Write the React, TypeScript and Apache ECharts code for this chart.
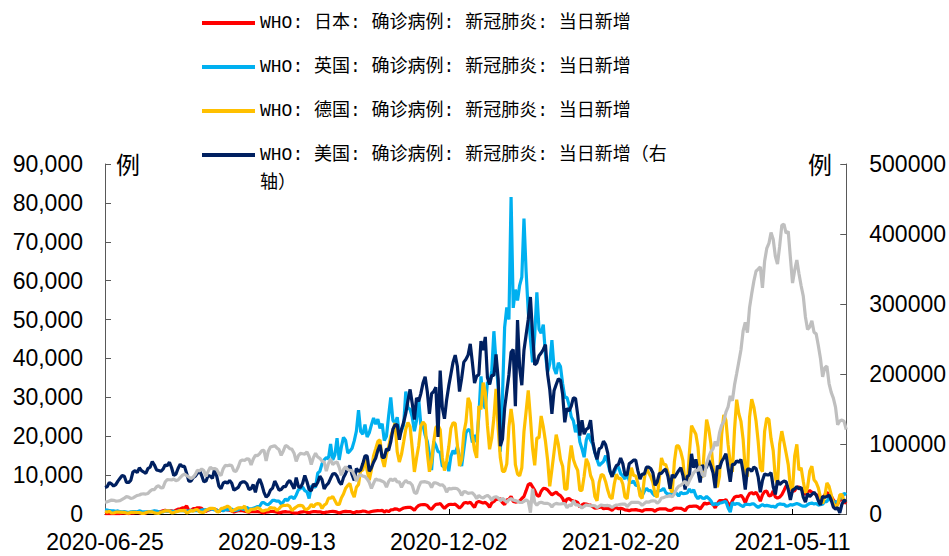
import React, { useEffect, useRef } from "react";
import * as echarts from "echarts";

// ---- categories: daily dates from 2020-06-25 (346 days) ----
const startUTC = Date.UTC(2020, 5, 25);
const dayCount = 346;
const dates: string[] = [];
for (let i = 0; i < dayCount; i++) {
  dates.push(new Date(startUTC + i * 86400000).toISOString().slice(0, 10));
}

const seriesNames = [
  "WHO: 日本: 确诊病例: 新冠肺炎: 当日新增",
  "WHO: 英国: 确诊病例: 新冠肺炎: 当日新增",
  "WHO: 德国: 确诊病例: 新冠肺炎: 当日新增",
  "WHO: 美国: 确诊病例: 新冠肺炎: 当日新增（右轴）",
];
const indiaName = "WHO: 印度: 确诊病例: 新冠肺炎: 当日新增（右轴）";

const leftTicks = [0, 10000, 20000, 30000, 40000, 50000, 60000, 70000, 80000, 90000];
const rightTicks = [0, 100000, 200000, 300000, 400000, 500000];

// ---- Japan (left axis) ----
const japan = [
  60, 100, 90, 100, 60, 90,
  130, 120, 200, 270, 210, 110, 210, 200, 360, 410, 290, 280, 140, 260, 450, 620, 590, 680, 510, 420, 620, 800, 980, 770, 840, 830, 610, 1000, 1260, 1290, 1580,
  1550, 2100, 900, 960, 1360, 1360, 1600, 1560, 1440, 870, 700, 980, 1180, 1360, 1240, 1010, 630, 920, 1060, 1190, 1040, 1000, 740, 480, 710, 870, 860, 880, 740, 570, 440,
  630, 600, 580, 590, 520, 430, 270, 500, 510, 650, 640, 590, 440, 270, 430, 560, 590, 520, 510, 370, 250, 210, 320, 480, 560, 640, 430, 340, 520, 610,
  630, 540, 580, 420, 300, 480, 540, 650, 690, 620, 480, 270, 460, 600, 690, 620, 620, 440, 320, 610, 550, 600, 760, 710, 520, 440, 630, 740, 800, 850, 840,
  940, 500, 860, 600, 1050, 1100, 1330, 1240, 960, 1270, 1550, 1650, 1700, 1730, 1430, 950, 1700, 2200, 2380, 2400, 2420, 2170, 1520, 1210, 1940, 2500, 2520, 2680, 2040, 1430,
  2030, 2420, 2510, 2440, 2520, 2060, 1520, 2020, 2810, 2970, 2790, 3030, 2350, 1680, 2990, 3210, 3040, 2800, 2990, 2500, 1750, 2840, 3210, 3740, 3830, 3890, 2930, 2390, 3600, 3810, 4520,
  3240, 3060, 3160, 3330, 4000, 4500, 6000, 7570, 7880, 7000, 6090, 4870, 4530, 5850, 6600, 6550, 6200, 5500, 4920, 5300, 5590, 5050, 4720, 3990, 2750, 3850, 3950, 3540, 3340, 3240, 2980,
  1780, 2330, 2630, 2570, 2390, 2280, 1890, 1500, 1590, 1690, 1880, 1350, 1410, 1450, 1270, 960, 1530, 1600, 1370, 1430, 1320, 1050, 1000, 860, 1060, 1070, 1130, 1000,
  910, 690, 1040, 1150, 1110, 1150, 1060, 690, 1130, 1310, 1300, 1330, 1320, 990, 920, 1010, 1480, 1520, 1480, 1470, 1200, 830, 1640, 1950, 1960, 2030, 2060, 1790, 1300, 2070, 2840,
  2590, 2780, 2760, 2470, 1570, 2650, 3450, 3450, 3450, 3700, 2770, 2080, 3450, 4310, 4570, 4530, 4800, 4090, 2840, 4320, 5270, 5500, 5100, 5590, 4610, 3300, 4920, 5790, 5900, 4670,
  4760, 5900, 4410, 4070, 4350, 4960, 6050, 7230, 7000, 6890, 5830, 6000, 6830, 6940, 6540, 5770, 5000, 5800, 6000, 5600, 5300, 5000, 4600, 3500, 4200, 4900, 5500, 5200, 4600, 3600, 3000,
  2600, 3600, 3800, 3200, 2700,
];

// ---- UK (left axis) ----
const uk = [
  1100, 1000, 900, 800, 800, 700,
  800, 600, 550, 620, 520, 400, 580, 620, 640, 510, 820, 650, 530, 540, 600, 540, 690, 800, 740, 580, 450, 560, 770, 760, 770, 690, 680, 580, 760, 850, 880,
  760, 740, 740, 940, 890, 950, 870, 760, 1060, 1060, 1150, 1010, 1440, 1210, 1040, 1010, 710, 1090, 810, 1180, 1030, 1290, 1280, 850, 1000, 1050, 1520, 1280, 1100, 1710, 1300,
  1300, 1500, 1700, 1900, 2000, 2900, 2900, 2500, 2400, 2900, 3500, 3500, 3300, 3300, 2600, 3100, 3900, 3400, 4300, 4400, 3900, 4900, 6200, 6600, 6900, 6000, 5700, 4000, 7100, 7100,
  6900, 10500, 11000, 12900, 13900, 14500, 14200, 18000, 13900, 15200, 19500, 13900, 17200, 19700, 18900, 15700, 16200, 16900, 18800, 21300, 26700, 21200, 20500, 23000, 19800, 20900, 22900, 24700, 23100, 24400, 22000,
  23200, 18900, 20000, 25200, 30000, 24100, 23300, 24900, 20600, 21400, 22900, 31500, 27300, 26900, 24900, 21300, 24000, 29500, 22900, 22900, 20300, 18700, 15400, 11300, 18700, 17600, 16000, 15900, 12300, 12300,
  13400, 11000, 14900, 16300, 15500, 17300, 14700, 12300, 16600, 20900, 21700, 21500, 18400, 20300, 18500, 25200, 35400, 28500, 27100, 34000, 33400, 36800, 47000, 39000, 32700, 16000, 30500, 48000, 53100, 50000, 81500,
  53000, 57700, 54900, 58800, 60900, 76000, 62300, 52000, 45000, 39000, 46000, 57000, 47500, 46500, 48700, 41000, 36500, 38600, 44700, 37500, 36000, 38900, 37900, 33500, 30000, 30000, 28000, 25000, 24000, 21000, 23000,
  18600, 16800, 14600, 19000, 20600, 19000, 18000, 15800, 14000, 12400, 13000, 13500, 15000, 13300, 10900, 9800, 10600, 12000, 12100, 10400, 9800, 9000, 10600, 8500, 8000, 8500, 7400, 7300,
  6000, 4700, 5800, 6600, 6000, 6000, 5200, 4700, 5800, 6000, 6100, 6600, 5500, 5100, 5100, 5300, 5800, 5300, 4600, 5600, 5200, 5300, 5400, 6400, 5600, 6200, 4700, 3900, 4600, 4100, 4000,
  4500, 4000, 3400, 2300, 2700, 2400, 2800, 2900, 3100, 3200, 1600, 500, 3000, 2400, 2700, 2600, 2200, 1900, 2500, 2500, 2400, 2600, 2600, 2100, 1700, 2100, 2400, 2100, 2200, 2100,
  1900, 2000, 1700, 2400, 2600, 2500, 2500, 2000, 2100, 2400, 2300, 2500, 2700, 2500, 2200, 2000, 2000, 2400, 2700, 2800, 2600, 2700, 2300, 2400, 2500, 3200, 3200, 4200, 3400, 3200, 3000,
  3200, 4000, 4300, 5300, 5000,
];

// ---- Germany (left axis) ----
const germany = [
  630, 480, 690, 260, 260, 470,
  470, 500, 440, 420, 240, 220, 400, 400, 440, 380, 380, 170, 160, 350, 530, 580, 550, 300, 200, 160, 450, 570, 815, 780, 780, 305, 340, 630, 680, 900, 870,
  950, 240, 510, 880, 740, 1050, 1150, 555, 435, 440, 965, 1230, 1450, 1450, 1415, 625, 560, 1390, 1510, 1710, 2030, 1700, 700, 1000, 1280, 1580, 1570, 1570, 2034, 610, 680,
  1220, 1250, 1310, 1630, 1380, 810, 810, 1030, 1090, 1680, 1520, 1510, 910, 1340, 2000, 2200, 2190, 2300, 1950, 920, 1380, 1800, 2150, 2200, 2110, 1230, 1190, 1610, 2500, 1800,
  2500, 2670, 2560, 1410, 2280, 2640, 4060, 4060, 4520, 3500, 2470, 2460, 4120, 5130, 6640, 7330, 7830, 5590, 4330, 6870, 7600, 11290, 11240, 14710, 11180, 8690, 11410, 14960, 16770, 18680, 19060,
  14180, 12100, 15350, 17210, 19990, 21500, 23400, 16020, 13360, 15330, 18490, 21870, 23540, 22460, 16950, 10820, 14420, 17560, 22610, 23650, 22960, 15740, 10860, 13550, 18630, 22270, 22810, 21700, 14610, 11170,
  13600, 17270, 22050, 23450, 23320, 17770, 12330, 14050, 20820, 23680, 29880, 28440, 20200, 16360, 14430, 27730, 26920, 33780, 31300, 22770, 16640, 19530, 24740, 32200, 22000, 14460, 10980, 10980, 12890, 22460, 27000,
  22900, 12700, 10300, 9800, 11900, 21200, 26400, 31800, 24700, 16900, 12500, 19600, 19600, 25200, 22400, 18700, 13900, 7100, 11400, 15900, 20400, 17900, 14000, 12300, 6400, 6400, 13200, 17600, 14000, 12400, 11200,
  6100, 6100, 9700, 14200, 12900, 9900, 8600, 4500, 3400, 8100, 10200, 9900, 8300, 6100, 4400, 3900, 7600, 10200, 9100, 9200, 7700, 4400, 3900, 8000, 11900, 9900, 9800, 8000,
  4700, 4000, 9000, 11900, 10600, 9600, 8100, 5000, 4300, 9100, 14400, 12800, 12700, 10800, 6600, 5500, 13400, 17500, 17500, 16000, 13700, 7700, 7500, 15800, 22700, 21600, 20500, 17200, 9900, 9500, 17100,
  24300, 21900, 18100, 12200, 8500, 6900, 9700, 20400, 25500, 24100, 17900, 13200, 10800, 21700, 29400, 25800, 23800, 19200, 11400, 9600, 24900, 29500, 27500, 24000, 18700, 11900, 10900, 21200, 24700, 24300,
  19400, 16300, 9200, 7500, 18000, 21300, 18500, 15700, 12700, 6900, 6100, 14900, 17900, 11300, 11900, 8400, 5400, 6900, 11000, 12300, 8800, 8100, 6700, 4200, 2700, 4500, 8000, 7100, 5000, 2600, 2000,
  2300, 4900, 5000, 3200, 3600,
];

// ---- USA (right axis) ----
const usa = [
  38000, 39000, 45000, 43000, 40000, 42000,
  47000, 51000, 55000, 54000, 45000, 45000, 48000, 60000, 62000, 59000, 66000, 62000, 60000, 58000, 65000, 67000, 75000, 70000, 63000, 62000, 61000, 64000, 70000, 69000, 74000, 66000, 55000, 57000, 65000, 71000, 68000,
  68000, 58000, 47000, 47000, 52000, 54000, 58000, 62000, 55000, 46000, 47000, 55000, 54000, 51000, 64000, 54000, 40000, 36000, 44000, 46000, 44000, 48000, 44000, 34000, 36000, 38000, 44000, 46000, 46000, 43000, 35000,
  36000, 42000, 31000, 44000, 50000, 42000, 31000, 24000, 27000, 34000, 37000, 47000, 41000, 34000, 35000, 39000, 39000, 45000, 48000, 42000, 36000, 52000, 39000, 38000, 44000, 55000, 46000, 35000, 33000, 43000,
  40000, 45000, 54000, 49000, 36000, 41000, 44000, 51000, 57000, 58000, 54000, 46000, 42000, 52000, 58000, 65000, 69000, 56000, 48000, 65000, 61000, 63000, 72000, 83000, 83000, 61000, 66000, 74000, 80000, 91000, 99000,
  81000, 81000, 93000, 91000, 103000, 121000, 127000, 128000, 106000, 121000, 131000, 144000, 162000, 178000, 158000, 135000, 166000, 161000, 172000, 187000, 196000, 175000, 143000, 172000, 175000, 181000, 110000, 205000, 152000, 136000,
  163000, 183000, 200000, 217000, 227000, 211000, 175000, 194000, 217000, 221000, 227000, 243000, 216000, 187000, 197000, 199000, 247000, 234000, 253000, 195000, 185000, 198000, 198000, 228000, 193000, 97000, 107000, 151000, 175000, 199000, 231000,
  235000, 154000, 277000, 208000, 184000, 234000, 256000, 278000, 310000, 257000, 213000, 216000, 226000, 230000, 235000, 242000, 200000, 178000, 143000, 176000, 185000, 193000, 191000, 171000, 131000, 151000, 147000, 154000, 166000, 165000, 142000,
  112000, 134000, 114000, 121000, 123000, 134000, 104000, 88000, 78000, 93000, 95000, 104000, 99000, 87000, 62000, 53000, 63000, 69000, 71000, 80000, 72000, 56000, 56000, 72000, 74000, 77000, 77000, 62000,
  50000, 57000, 57000, 67000, 67000, 65000, 59000, 41000, 46000, 58000, 58000, 62000, 64000, 54000, 36000, 56000, 52000, 57000, 62000, 66000, 55000, 35000, 54000, 55000, 86000, 66000, 78000, 61000, 45000, 70000, 63000,
  67000, 77000, 69000, 59000, 37000, 69000, 65000, 75000, 80000, 86000, 66000, 46000, 71000, 71000, 76000, 74000, 78000, 60000, 35000, 64000, 64000, 61000, 67000, 65000, 53000, 31000, 48000, 57000, 56000, 56000,
  59000, 39000, 28000, 48000, 42000, 45000, 47000, 46000, 35000, 20000, 34000, 36000, 39000, 36000, 38000, 24000, 17000, 29000, 25000, 28000, 31000, 27000, 19000, 13000, 25000, 24000, 25000, 27000, 20000, 10000, 7000,
  9000, 1500, 14000, 20000, 17000,
];

// ---- India (right axis, not in legend) ----
const india = [
  16900, 17300, 18600, 19900, 19500, 18500,
  18600, 19100, 20900, 22700, 24800, 24200, 22300, 22800, 24900, 26500, 27100, 28600, 28700, 28500, 29400, 32700, 35000, 34900, 38900, 40400, 37100, 37700, 45700, 49300, 48900, 48700, 49900, 47700, 48500, 52100, 55100,
  57100, 54700, 52900, 50600, 52500, 56300, 62500, 61500, 64400, 62100, 53600, 60900, 66900, 64500, 65000, 63500, 57900, 55000, 64500, 69700, 68900, 69900, 69200, 61400, 60900, 67200, 75800, 77200, 76500, 78800, 78500,
  69900, 78400, 83900, 83300, 86400, 90600, 90800, 75800, 89700, 95700, 96600, 97600, 94400, 92000, 83800, 90100, 97900, 96400, 93300, 92600, 86900, 75100, 83300, 86500, 86100, 85400, 88600, 82200, 70600, 80500,
  86800, 81500, 79500, 75800, 74400, 61300, 72000, 78500, 70500, 73300, 74400, 66700, 55300, 63500, 67700, 63400, 62200, 61900, 55700, 46800, 54000, 55800, 54400, 53400, 50100, 45100, 36500, 43900, 49900, 48600, 48300,
  46900, 45200, 38300, 46300, 50200, 47600, 50400, 45700, 45900, 38100, 44300, 47900, 44900, 44700, 41100, 30500, 29200, 38600, 45600, 45900, 46200, 45200, 44000, 37900, 44400, 44500, 43100, 41300, 41800, 38800,
  31100, 36600, 35600, 36600, 36700, 36000, 32900, 26600, 32000, 31500, 29400, 30000, 30200, 27000, 22000, 26400, 24000, 22900, 25200, 26600, 24300, 19600, 23900, 24700, 23000, 18700, 22300, 20000, 16400, 20500, 21800,
  20000, 19100, 18200, 16500, 16400, 18100, 20300, 18100, 2000, 36000, 16300, 12600, 15900, 16900, 15600, 15100, 15200, 13800, 10100, 13800, 15200, 14500, 14300, 14800, 14900, 9100, 12700, 11700, 18900, 13100, 13000,
  11400, 8600, 11000, 12900, 12400, 11700, 12100, 11800, 9100, 11100, 12900, 12100, 12100, 12200, 11600, 9100, 11600, 12900, 13200, 13900, 14300, 14200, 10600, 13700, 16700, 16600, 16500, 16800,
  15500, 12300, 14900, 17400, 16800, 18300, 18700, 18600, 15400, 17900, 22900, 23300, 24900, 25300, 26300, 24500, 28900, 35900, 39700, 40900, 43800, 46900, 40700, 47300, 53500, 59100, 62300, 62700, 68000, 56200, 53500,
  72300, 81500, 89100, 93200, 103600, 97000, 115700, 126800, 132000, 145400, 152900, 168900, 161700, 184400, 200700, 217400, 234700, 261500, 273800, 259200, 295000, 314800, 332700, 346800, 349700, 353000, 323100, 361000, 379300, 386500,
  402000, 392500, 368100, 357200, 382300, 412300, 414200, 401100, 403700, 366200, 329900, 348400, 362700, 343100, 326100, 311200, 281400, 263500, 267300, 276100, 259600, 257300, 240800, 222300, 195800, 208900, 211300, 186400, 173800, 165600, 152700,
  127500, 132800, 134200, 132400, 120500,
];

const colors = ["#FF0000", "#00B0F0", "#FFC000", "#002060", "#BFBFBF"];

const latinFont = '"Liberation Sans", Arial, sans-serif';
const legendFont = '"Liberation Mono", "Noto Sans CJK SC", monospace';
const cjkFont = '"Noto Sans CJK SC", sans-serif';

export default function App() {
  const ref = useRef<HTMLDivElement>(null);

  useEffect(() => {
    if (!ref.current) return;
    const chart = echarts.init(ref.current, undefined, { renderer: "svg" });

    const mk = (name: string, data: number[], color: string, yAxisIndex: number) => ({
      name,
      type: "line",
      data,
      yAxisIndex,
      symbol: "none",
      showSymbol: false,
      silent: true,
      lineStyle: { color, width: 3.2 },
      itemStyle: { color },
    });

    const option: any = {
      animation: false,
      backgroundColor: "#ffffff",
      grid: { left: 105, right: 97, top: 164, bottom: 42, containLabel: false },
      legend: {
        orient: "vertical",
        left: 197,
        top: 9,
        icon: "rect",
        itemWidth: 53,
        itemHeight: 4,
        itemGap: 26,
        selectedMode: false,
        data: seriesNames,
        textStyle: { fontSize: 18, fontFamily: legendFont, color: "#000" },
        formatter: (name: string) => (name.endsWith("（右轴）") ? name.replace("轴）", "") : name),
      },
      xAxis: {
        type: "category",
        data: dates,
        boundaryGap: false,
        axisLine: { lineStyle: { color: "#000", width: 1 } },
        axisTick: { inside: true, length: 5, interval: 79, lineStyle: { color: "#000" } },
        axisLabel: {
          interval: 79,
          margin: 16,
          fontSize: 23,
          fontFamily: latinFont,
          color: "#000",
        },
        splitLine: { show: false },
      },
      yAxis: [
        {
          type: "value",
          min: leftTicks[0],
          max: leftTicks[leftTicks.length - 1],
          interval: leftTicks[1] - leftTicks[0],
          position: "left",
          axisLine: { show: true, lineStyle: { color: "#595959" } },
          axisTick: { show: true, inside: true, length: 6, lineStyle: { color: "#595959" } },
          axisLabel: {
            margin: 22,
            fontSize: 23,
            fontFamily: latinFont,
            color: "#000",
            formatter: (v: number) => v.toLocaleString("en-US"),
          },
          splitLine: { show: false },
        },
        {
          type: "value",
          min: rightTicks[0],
          max: rightTicks[rightTicks.length - 1],
          interval: rightTicks[1] - rightTicks[0],
          position: "right",
          axisLine: { show: true, lineStyle: { color: "#595959" } },
          axisTick: { show: true, inside: true, length: 6, lineStyle: { color: "#595959" } },
          axisLabel: {
            margin: 23,
            fontSize: 23,
            fontFamily: latinFont,
            color: "#000",
            formatter: (v: number) => String(v),
          },
          splitLine: { show: false },
        },
      ],
      graphic: [
        { type: "text", left: 116, top: 151, style: { text: "例", fontSize: 24, fontFamily: cjkFont, fill: "#000" } },
        { type: "text", left: 808, top: 151, style: { text: "例", fontSize: 24, fontFamily: cjkFont, fill: "#000" } },
        { type: "text", left: 260, top: 174, style: { text: "轴）", fontSize: 18, fontFamily: legendFont, fill: "#000" } },
      ],
      series: [
        mk(seriesNames[0], japan, colors[0], 0),
        mk(seriesNames[1], uk, colors[1], 0),
        mk(seriesNames[2], germany, colors[2], 0),
        mk(seriesNames[3], usa, colors[3], 1),
        mk(indiaName, india, colors[4], 1),
      ],
    };

    chart.setOption(option);
    return () => chart.dispose();
  }, []);

  return (
    <div
      ref={ref}
      style={{ position: "absolute", left: 0, top: 0, width: 949, height: 556, background: "#fff" }}
    />
  );
}
